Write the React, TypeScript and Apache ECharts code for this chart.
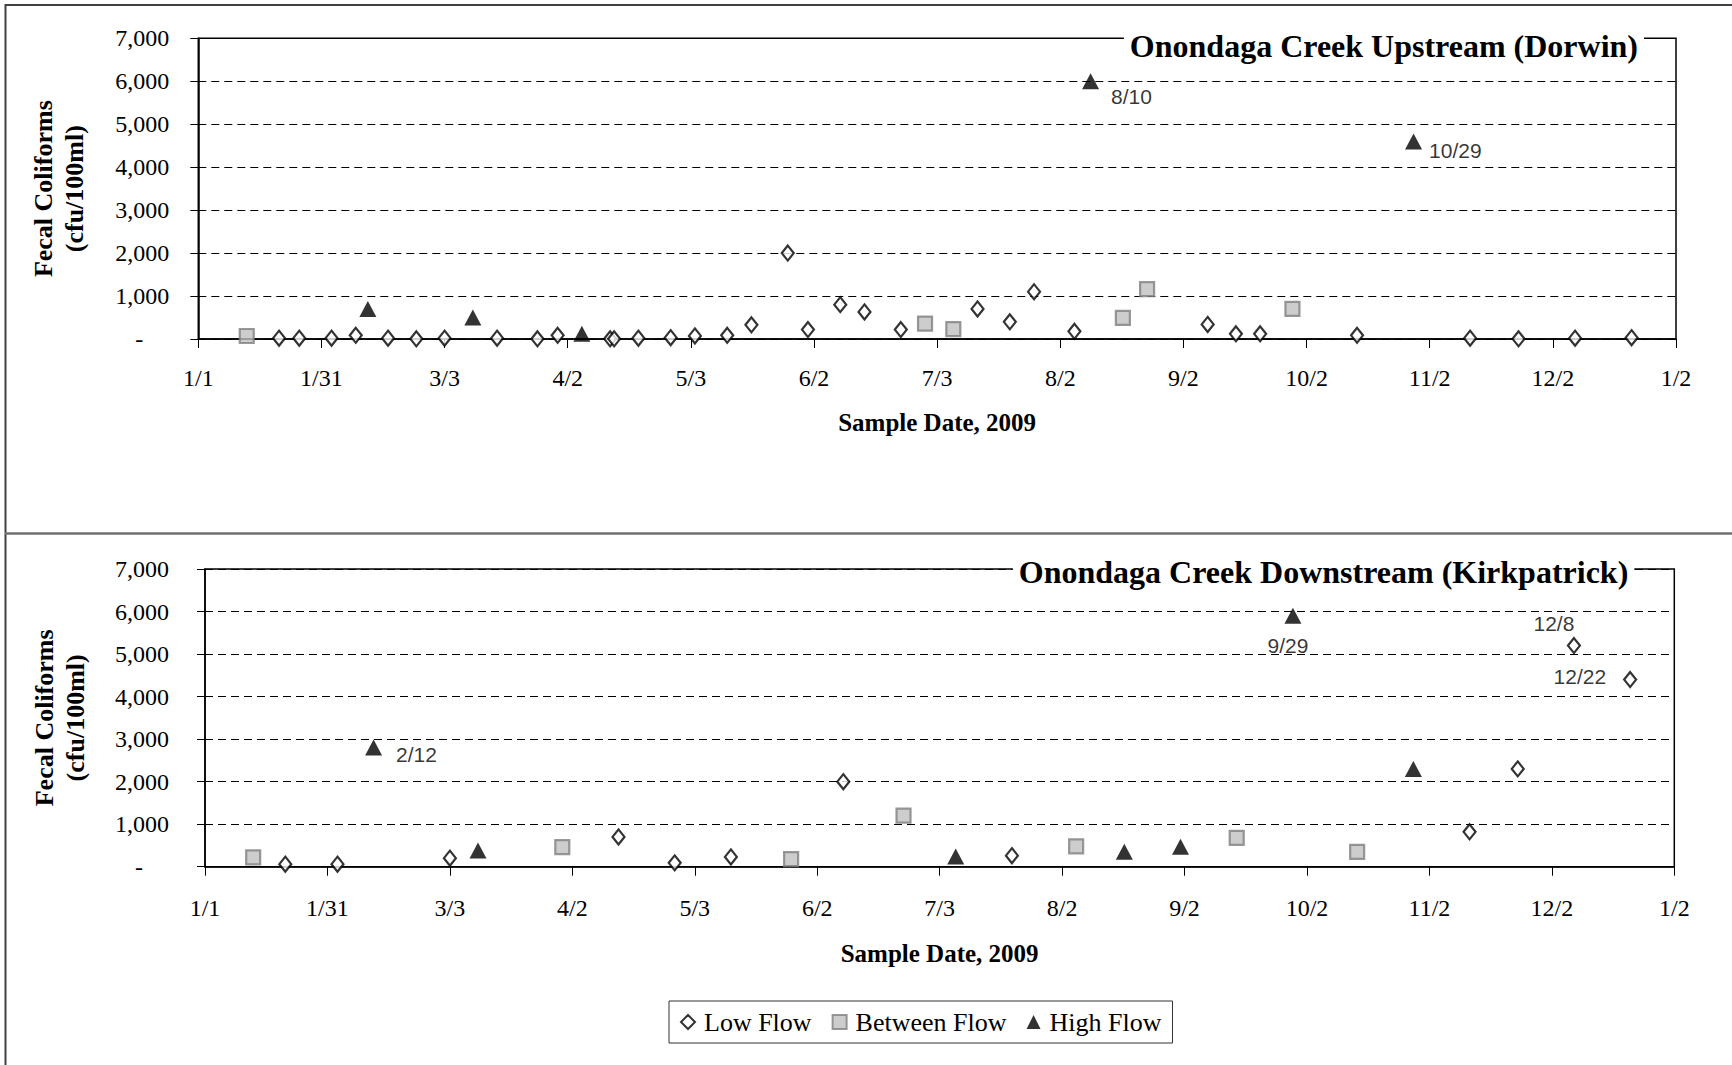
import React, { useEffect, useRef } from "react";
import * as echarts from "echarts";

// ---- Data (dates are 2009 sample dates, values are fecal coliforms cfu/100ml) ----
const upLowDates = ["1/21","1/26","2/3","2/9","2/17","2/24","3/3","3/16","3/26","3/31","4/13","4/14","4/20","4/28","5/4","5/12","5/18","5/27","6/1","6/9","6/15","6/24","7/13","7/21","7/27","8/6","9/8","9/15","9/21","10/15","11/12","11/24","12/8","12/22"];
const upLowValues = [20,20,20,85,20,5,20,20,5,85,5,5,20,30,70,85,330,2000,220,800,630,220,700,400,1100,180,340,120,120,85,20,5,20,30];
const upBetweenDates = ["1/13","6/30","7/7","8/18","8/24","9/29"];
const upBetweenValues = [70,360,230,490,1160,700];
const upHighDates = ["2/12","3/10","4/6","8/10","10/29"];
const upHighValues = [700,500,125,6000,4600];

const downLowDates = ["1/21","2/3","3/3","4/14","4/28","5/12","6/9","7/21","11/12","11/24","12/8","12/22"];
const downLowValues = [60,60,200,700,90,230,2000,260,820,2300,5200,4400];
const downBetweenDates = ["1/13","3/31","5/27","6/24","8/6","9/15","10/15"];
const downBetweenValues = [220,460,180,1200,480,680,350];
const downHighDates = ["2/12","3/10","7/7","8/18","9/1","9/29","10/29"];
const downHighValues = [2800,380,240,350,470,5900,2300];

const seriesNames = ["Low Flow", "Between Flow", "High Flow"];
const panelTitles = ["Onondaga Creek Upstream (Dorwin)", "Onondaga Creek Downstream (Kirkpatrick)"];
const xAxisTitle = "Sample Date, 2009";
const yAxisTitle = "Fecal Coliforms\n(cfu/100ml)";

const DAY = 86400000;
const BASE = Date.UTC(2009, 0, 1);
function toDay(md: string): number {
  const [m, d] = md.split("/").map(Number);
  return (Date.UTC(2009, m - 1, d) - BASE) / DAY;
}
function dayLabel(v: number): string {
  const dt = new Date(BASE + Math.floor(v + 1e-6) * DAY);
  return `${dt.getUTCMonth() + 1}/${dt.getUTCDate()}`;
}

const SERIF = "'Liberation Serif', 'Times New Roman', serif";
const SANS = "'Liberation Sans', Arial, sans-serif";

function pts(dates: string[], values: number[], labels?: Record<string, any>) {
  return dates.map((d, i) => {
    const item: any = { value: [toDay(d), values[i]] };
    if (labels && labels[d]) {
      item.label = {
        show: true,
        formatter: d,
        fontFamily: SANS,
        fontSize: 21,
        color: "#000",
        ...labels[d],
      };
    }
    return item;
  });
}

const lowStyle = { symbol: "diamond", symbolSize: [12, 15], itemStyle: { color: "#fff", borderColor: "#000", borderWidth: 2.2 } };
const betweenStyle = { symbol: "rect", symbolSize: 14, itemStyle: { color: "#c0c0c0", borderColor: "#808080", borderWidth: 2.2 } };
const highStyle = { symbol: "triangle", symbolSize: [17, 16], itemStyle: { color: "#000" } };

export default function App() {
  const ref = useRef<HTMLDivElement>(null);
  useEffect(() => {
    if (!ref.current) return;
    const chart = echarts.init(ref.current, null, { renderer: "svg" });

    const grids = [
      { left: 198.3, top: 38.3, width: 1477.7, height: 300.7, yLabelMargin: 29, xLabelMargin: 27, xNameGap: 71, yNameGap: 108 },
      { left: 205, top: 569, width: 1469.3, height: 297.7, yLabelMargin: 36, xLabelMargin: 29, xNameGap: 74, yNameGap: 114.5 },
    ];

    const xAxes = grids.map((g, i) => ({
      type: "value",
      gridIndex: i,
      min: 0,
      max: 366,
      interval: 30.5,
      name: xAxisTitle,
      nameLocation: "middle",
      nameGap: g.xNameGap,
      nameTextStyle: { fontFamily: SERIF, fontSize: 25, fontWeight: "bold", color: "#000" },
      axisLine: { show: true, onZero: false, lineStyle: { color: "#000", width: 1.5 } },
      axisTick: { show: true, inside: false, length: 9, lineStyle: { color: "#000", width: 1 } },
      axisLabel: {
        margin: g.xLabelMargin,
        fontFamily: SERIF,
        fontSize: 24,
        color: "#000",
        formatter: (v: number) => dayLabel(v),
      },
      splitLine: { show: false },
    }));

    const yAxes = grids.map((g, i) => ({
      type: "value",
      gridIndex: i,
      min: 0,
      max: 7000,
      interval: 1000,
      name: yAxisTitle,
      nameLocation: "middle",
      nameGap: g.yNameGap,
      nameTextStyle: { fontFamily: SERIF, fontSize: 26, fontWeight: "bold", color: "#000", lineHeight: 31 },
      axisLine: { show: true, onZero: false, lineStyle: { color: "#000", width: 1.5 } },
      axisTick: { show: true, inside: false, length: 8, lineStyle: { color: "#000", width: 1 } },
      axisLabel: {
        margin: g.yLabelMargin,
        fontFamily: SERIF,
        fontSize: 24,
        color: "#000",
        formatter: (v: number) => (v === 0 ? "{z|-}" : v.toLocaleString("en-US")),
        rich: { z: { fontFamily: SERIF, fontSize: 24, color: "#000", padding: [0, 26, 0, 0] } },
      },
      splitLine: { show: true, lineStyle: { color: "#000", width: 1, type: [8, 5] } },
    }));

    const series = [
      { name: seriesNames[0], ...lowStyle, xAxisIndex: 0, yAxisIndex: 0, data: pts(upLowDates, upLowValues) },
      { name: seriesNames[1], ...betweenStyle, xAxisIndex: 0, yAxisIndex: 0, data: pts(upBetweenDates, upBetweenValues) },
      {
        name: seriesNames[2], ...highStyle, xAxisIndex: 0, yAxisIndex: 0,
        data: pts(upHighDates, upHighValues, {
          "8/10": { position: "right", offset: [7, 15] },
          "10/29": { position: "right", offset: [2, 9] },
        }),
      },
      {
        name: seriesNames[0], ...lowStyle, xAxisIndex: 1, yAxisIndex: 1,
        data: pts(downLowDates, downLowValues, {
          "12/8": { position: "top", offset: [-20, 2] },
          "12/22": { position: "left", offset: [-12, -3] },
        }),
      },
      { name: seriesNames[1], ...betweenStyle, xAxisIndex: 1, yAxisIndex: 1, data: pts(downBetweenDates, downBetweenValues) },
      {
        name: seriesNames[2], ...highStyle, xAxisIndex: 1, yAxisIndex: 1,
        data: pts(downHighDates, downHighValues, {
          "2/12": { position: "right", offset: [9, 7] },
          "9/29": { position: "bottom", offset: [-5, 6] },
        }),
      },
    ].map((s) => ({ type: "scatter", ...s, emphasis: { disabled: true } }));

    chart.setOption({
      animation: false,
      backgroundColor: "#fff",
      title: [
        {
          text: panelTitles[0],
          right: 88,
          top: 27.5,
          padding: [2, 6, 2, 6],
          backgroundColor: "#fff",
          textStyle: { fontFamily: SERIF, fontSize: 32, fontWeight: "bold", color: "#000" },
        },
        {
          text: panelTitles[1],
          right: 97.7,
          top: 554,
          padding: [2, 6, 2, 6],
          backgroundColor: "#fff",
          textStyle: { fontFamily: SERIF, fontSize: 32, fontWeight: "bold", color: "#000" },
        },
      ],
      legend: {
        data: seriesNames,
        left: 669,
        top: 1001,
        padding: [8, 11, 8, 11],
        itemGap: 20,
        itemWidth: 14,
        itemHeight: 14,
        borderColor: "#333",
        borderWidth: 1,
        backgroundColor: "#fff",
        textStyle: { fontFamily: SERIF, fontSize: 26, color: "#000", padding: [0, 0, 0, 4] },
      },
      grid: grids.map((g) => ({
        left: g.left,
        top: g.top,
        width: g.width,
        height: g.height,
        show: true,
        borderColor: "#000",
        borderWidth: 1.5,
        containLabel: false,
      })),
      xAxis: xAxes,
      yAxis: yAxes,
      series,
      graphic: [
        { type: "line", shape: { x1: 5, y1: 5, x2: 1732, y2: 5 }, style: { stroke: "#404040", lineWidth: 2 }, silent: true },
        { type: "line", shape: { x1: 5.5, y1: 4, x2: 5.5, y2: 1065 }, style: { stroke: "#404040", lineWidth: 2 }, silent: true },
        { type: "line", shape: { x1: 5, y1: 533.5, x2: 1732, y2: 533.5 }, style: { stroke: "#707070", lineWidth: 2.5 }, silent: true },
      ],
    });

    return () => chart.dispose();
  }, []);

  return (
    <div
      ref={ref}
      style={{ position: "fixed", left: 0, top: 0, width: 1732, height: 1065, background: "#fff" }}
    />
  );
}
